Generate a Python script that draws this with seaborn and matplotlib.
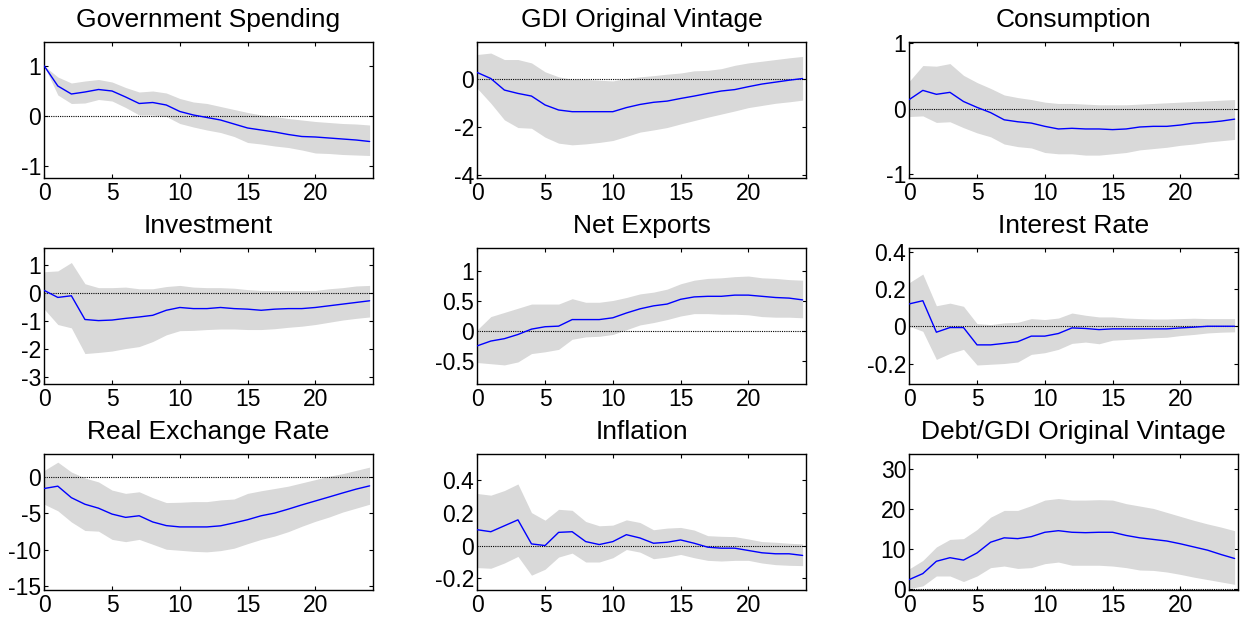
import matplotlib
matplotlib.use("Agg")
import matplotlib.pyplot as plt
import numpy as np
import pandas as pd
import seaborn as sns

# Impulse responses to a government spending shock (median and 68% bands)
horizon = list(range(25))
xticks = [0, 5, 10, 15, 20]

gov_irf = [1.0, 0.6, 0.44, 0.48, 0.53, 0.5, 0.38, 0.25, 0.27, 0.22, 0.09, 0.02, -0.03, -0.08, -0.16,
           -0.24, -0.28, -0.32, -0.37, -0.41, -0.42, -0.44, -0.46, -0.48, -0.51]
gov_hi = [1.0, 0.78, 0.66, 0.70, 0.73, 0.68, 0.57, 0.48, 0.5, 0.46, 0.35, 0.28, 0.25, 0.19, 0.13,
          0.07, 0.02, -0.01, -0.05, -0.08, -0.11, -0.13, -0.15, -0.16, -0.18]
gov_lo = [1.0, 0.42, 0.25, 0.26, 0.33, 0.3, 0.17, 0.02, 0.02, -0.01, -0.15, -0.22, -0.28, -0.33, -0.41,
          -0.53, -0.56, -0.6, -0.63, -0.68, -0.74, -0.75, -0.77, -0.78, -0.79]

gdi_irf = [0.25, 0.0, -0.48, -0.62, -0.73, -1.1, -1.31, -1.38, -1.38, -1.38, -1.38, -1.21, -1.08, -0.99,
           -0.94, -0.83, -0.73, -0.62, -0.52, -0.46, -0.34, -0.23, -0.15, -0.07, 0.0]
gdi_hi = [1.0, 1.06, 0.79, 0.79, 0.65, 0.28, 0.07, -0.03, -0.04, -0.07, -0.1, 0.0, 0.07, 0.12, 0.18,
          0.23, 0.32, 0.34, 0.41, 0.55, 0.65, 0.72, 0.79, 0.86, 0.92]
gdi_lo = [-0.41, -1.03, -1.72, -2.04, -2.07, -2.44, -2.69, -2.76, -2.72, -2.66, -2.58, -2.41, -2.23,
          -2.14, -2.04, -1.89, -1.75, -1.61, -1.48, -1.35, -1.21, -1.12, -1.03, -0.97, -0.9]

cons_irf = [0.14, 0.28, 0.22, 0.25, 0.11, 0.02, -0.06, -0.17, -0.2, -0.22, -0.27, -0.31, -0.3, -0.31,
            -0.31, -0.32, -0.31, -0.28, -0.27, -0.27, -0.25, -0.22, -0.21, -0.19, -0.16]
cons_hi = [0.42, 0.66, 0.65, 0.69, 0.51, 0.40, 0.31, 0.21, 0.17, 0.14, 0.10, 0.08, 0.08, 0.07, 0.06,
           0.06, 0.06, 0.07, 0.08, 0.09, 0.10, 0.11, 0.12, 0.13, 0.14]
cons_lo = [-0.12, -0.11, -0.21, -0.2, -0.29, -0.37, -0.43, -0.54, -0.58, -0.6, -0.67, -0.69, -0.69,
           -0.71, -0.71, -0.69, -0.67, -0.63, -0.61, -0.59, -0.56, -0.54, -0.51, -0.49, -0.47]

inv_irf = [0.1, -0.15, -0.09, -0.94, -0.98, -0.96, -0.9, -0.85, -0.79, -0.61, -0.51, -0.55, -0.55,
           -0.51, -0.55, -0.57, -0.61, -0.57, -0.55, -0.55, -0.51, -0.45, -0.39, -0.33, -0.27]
inv_hi = [0.77, 0.8, 1.1, 0.34, 0.2, 0.2, 0.22, 0.16, 0.16, 0.24, 0.28, 0.22, 0.2, 0.2, 0.18, 0.13,
          0.1, 0.1, 0.1, 0.1, 0.1, 0.16, 0.2, 0.26, 0.28]
inv_lo = [-0.57, -1.12, -1.24, -2.16, -2.12, -2.07, -1.98, -1.91, -1.73, -1.49, -1.34, -1.33, -1.3,
          -1.28, -1.28, -1.3, -1.3, -1.27, -1.22, -1.18, -1.12, -1.04, -0.96, -0.9, -0.85]

nx_irf = [-0.25, -0.17, -0.13, -0.06, 0.03, 0.07, 0.08, 0.19, 0.19, 0.19, 0.22, 0.3, 0.37, 0.42, 0.45,
          0.53, 0.57, 0.58, 0.58, 0.6, 0.6, 0.58, 0.56, 0.55, 0.52]
nx_hi = [0.02, 0.24, 0.31, 0.38, 0.45, 0.45, 0.45, 0.54, 0.48, 0.48, 0.51, 0.56, 0.62, 0.65, 0.7, 0.79,
         0.85, 0.88, 0.89, 0.91, 0.92, 0.89, 0.88, 0.86, 0.85]
nx_lo = [-0.53, -0.55, -0.57, -0.52, -0.38, -0.35, -0.31, -0.14, -0.1, -0.09, -0.06, 0.02, 0.1, 0.14,
         0.19, 0.25, 0.29, 0.29, 0.28, 0.28, 0.27, 0.24, 0.23, 0.23, 0.22]

ir_irf = [0.12, 0.137, -0.032, -0.007, -0.007, -0.1, -0.1, -0.092, -0.083, -0.053, -0.053, -0.039,
          -0.009, -0.012, -0.018, -0.014, -0.014, -0.014, -0.014, -0.014, -0.009, -0.005, 0.0, 0.0, 0.0]
ir_hi = [0.234, 0.28, 0.11, 0.124, 0.107, 0.014, 0.009, 0.018, 0.021, 0.041, 0.036, 0.044, 0.071,
         0.059, 0.05, 0.05, 0.044, 0.041, 0.039, 0.039, 0.041, 0.043, 0.041, 0.041, 0.041]
ir_lo = [0.0, -0.027, -0.178, -0.146, -0.124, -0.208, -0.204, -0.2, -0.192, -0.151, -0.142, -0.124,
         -0.092, -0.085, -0.094, -0.075, -0.071, -0.067, -0.062, -0.059, -0.05, -0.044, -0.036, -0.032,
         -0.03]

rer_irf = [-1.58, -1.26, -2.84, -3.74, -4.28, -5.09, -5.54, -5.32, -6.17, -6.67, -6.85, -6.85, -6.85,
           -6.7, -6.3, -5.86, -5.32, -4.95, -4.41, -3.83, -3.29, -2.75, -2.2, -1.67, -1.22]
rer_hi = [0.9, 2.03, 0.68, -0.14, -0.68, -1.8, -2.25, -2.03, -2.84, -3.51, -3.47, -3.38, -3.38, -3.15,
          -3.02, -2.25, -1.89, -1.58, -1.26, -0.81, -0.36, 0.09, 0.45, 0.9, 1.35]
rer_lo = [-3.74, -4.64, -6.17, -7.34, -7.43, -8.56, -8.87, -8.56, -9.23, -9.91, -10.05, -10.2, -10.27,
          -10.1, -9.77, -9.14, -8.56, -8.1, -7.5, -6.76, -6.08, -5.5, -4.82, -4.28, -3.74]

inf_irf = [0.096, 0.084, 0.12, 0.156, 0.01, 0.0, 0.08, 0.084, 0.024, 0.006, 0.024, 0.066, 0.046, 0.014,
           0.02, 0.034, 0.014, -0.01, -0.016, -0.016, -0.03, -0.044, -0.05, -0.05, -0.06]
inf_hi = [0.316, 0.306, 0.334, 0.374, 0.2, 0.154, 0.22, 0.214, 0.146, 0.12, 0.124, 0.156, 0.14, 0.096,
          0.106, 0.11, 0.094, 0.06, 0.056, 0.054, 0.04, 0.024, 0.02, 0.014, 0.01]
inf_lo = [-0.134, -0.138, -0.106, -0.066, -0.18, -0.144, -0.07, -0.046, -0.1, -0.1, -0.074, -0.024,
          -0.04, -0.08, -0.07, -0.054, -0.074, -0.09, -0.094, -0.09, -0.09, -0.106, -0.116, -0.12, -0.122]

debt_irf = [2.3, 3.8, 6.9, 7.8, 7.2, 9.0, 11.7, 12.8, 12.6, 13.1, 14.2, 14.6, 14.2, 14.1, 14.2, 14.2,
            13.4, 12.8, 12.4, 12.0, 11.3, 10.5, 9.7, 8.6, 7.6]
debt_hi = [5.0, 7.1, 10.5, 12.4, 12.6, 14.9, 18.0, 19.7, 19.7, 20.9, 22.3, 22.7, 22.3, 22.3, 22.4, 22.3,
           21.4, 20.8, 20.2, 19.2, 18.2, 17.2, 16.3, 15.5, 14.6]
debt_lo = [0.0, 0.7, 3.2, 3.2, 1.8, 3.2, 5.3, 5.7, 5.1, 5.3, 6.3, 6.7, 5.9, 5.9, 5.9, 5.7, 5.3, 4.7,
           4.6, 4.2, 3.6, 2.9, 2.3, 1.7, 1.1]

titles = ["Government Spending", "GDI Original Vintage", "Consumption",
          "Investment", "Net Exports", "Interest Rate",
          "Real Exchange Rate", "Inflation", "Debt/GDI Original Vintage"]
medians = [gov_irf, gdi_irf, cons_irf, inv_irf, nx_irf, ir_irf, rer_irf, inf_irf, debt_irf]
uppers = [gov_hi, gdi_hi, cons_hi, inv_hi, nx_hi, ir_hi, rer_hi, inf_hi, debt_hi]
lowers = [gov_lo, gdi_lo, cons_lo, inv_lo, nx_lo, ir_lo, rer_lo, inf_lo, debt_lo]
yticks = [[-1, 0, 1], [-4, -2, 0], [-1, 0, 1],
          [-3, -2, -1, 0, 1], [-0.5, 0, 0.5, 1], [-0.2, 0, 0.2, 0.4],
          [-15, -10, -5, 0], [-0.2, 0, 0.2, 0.4], [0, 10, 20, 30]]
ylims = [(-1.24, 1.48), (-4.14, 1.52), (-1.06, 1.02),
         (-3.25, 1.62), (-0.89, 1.39), (-0.31, 0.42),
         (-15.5, 3.15), (-0.27, 0.556), (-0.33, 33.9)]

sns.set_theme(style="white")
plt.rcParams["font.family"] = ["Liberation Sans", "DejaVu Sans"]
plt.rcParams.update({
    "axes.unicode_minus": False,
    "axes.edgecolor": "black",
    "axes.linewidth": 1.0,
    "axes.titlecolor": "black",
    "text.color": "black",
    "xtick.direction": "in",
    "ytick.direction": "in",
    "xtick.bottom": True,
    "xtick.top": True,
    "ytick.left": True,
    "ytick.right": True,
    "xtick.major.size": 3,
    "ytick.major.size": 3,
    "xtick.major.width": 0.8,
    "ytick.major.width": 0.8,
    "xtick.color": "black",
    "ytick.color": "black",
})

W, H = 1249, 618
fig = plt.figure(figsize=(W / 100, H / 100), dpi=100)
col_left = [44, 477, 909]
col_width = 329
row_top = [42, 248, 454]
row_height = 136

for i, title in enumerate(titles):
    r, c = divmod(i, 3)
    left = col_left[c] / W
    bottom = 1 - (row_top[r] + row_height) / H
    ax = fig.add_axes([left, bottom, col_width / W, row_height / H])

    ax.fill_between(horizon, lowers[i], uppers[i], color="#d9d9d9", linewidth=0, zorder=1)
    ax.axhline(0, color="black", linewidth=0.8, linestyle=(0, (1, 1)), zorder=2)
    frame = pd.DataFrame({"h": horizon, "irf": medians[i]})
    sns.lineplot(data=frame, x="h", y="irf", ax=ax, color="#0000ff", linewidth=1.0, zorder=3)

    ax.set_xlim(-0.02, 24.25)
    ax.set_ylim(*ylims[i])
    ax.set_xticks(xticks)
    ax.set_yticks(yticks[i])
    ax.set_yticklabels([f"{v:g}" for v in yticks[i]])
    ax.tick_params(axis="both", labelsize=16.5, pad=3, labelcolor="black")
    ax.tick_params(axis="y", pad=2)
    ax.set_xlabel("")
    ax.set_ylabel("")
    ax.set_title(title, fontsize=19, pad=11, color="black")
    for s in ax.spines.values():
        s.set_visible(True)
        s.set_color("black")

fig.savefig("out.png", dpi=100)
